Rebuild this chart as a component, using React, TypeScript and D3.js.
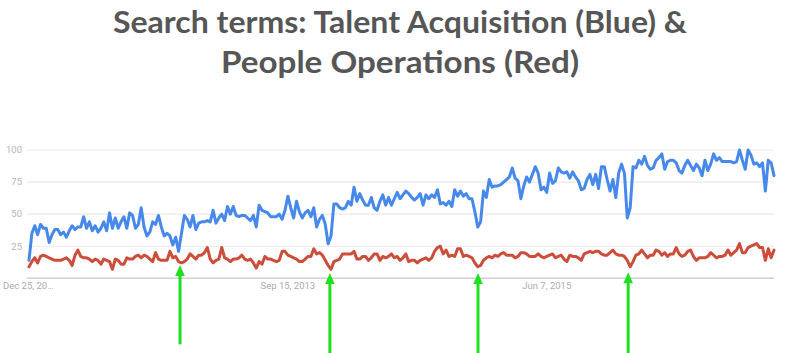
import React from "react";
import * as d3 from "d3";

const TITLE_LINES = ["Search terms: Talent Acquisition (Blue) &", "People Operations (Red)"];
const TITLE_WIDTHS = [574, 358];

const START_DATE = new Date(2011, 11, 25);

const talentAcquisition = [
  14, 35, 41, 34, 42, 39, 39, 28, 34, 38,
  38, 34, 36, 32, 37, 41, 38, 40, 40, 48,
  39, 44, 37, 41, 36, 39, 44, 37, 51, 39,
  47, 39, 44, 48, 39, 51, 49, 39, 42, 55,
  40, 33, 36, 44, 42,
  49, 40, 33, 35, 33, 26, 32, 21, 35, 49,
  46, 40, 49, 38, 43, 44, 44, 45, 44, 53,
  43, 47, 50, 45, 56, 50, 56, 49, 48, 49,
  49, 47, 45, 49, 40,
  57, 53, 52, 51, 48, 48, 48, 50, 46, 53,
  64, 55, 47, 60, 52, 47, 51, 53, 48, 55,
  40, 46, 49, 42, 27, 33, 58, 58, 55, 54,
  55, 60, 57, 71, 60, 66, 61, 57, 57, 63,
  55, 53, 60, 65, 57, 63,
  57, 62, 67, 62, 65, 68, 66, 63, 61, 63,
  66, 57, 65, 62, 65, 63, 69, 58, 59, 57,
  60, 56, 69, 64, 68, 64, 66, 62, 62, 52,
  40, 44, 68, 63, 77, 71, 72, 72, 73, 75,
  77, 79, 86, 78, 76, 62, 72, 79, 75, 81,
  87, 82, 69, 71, 67, 82, 74, 76, 86, 83,
  82, 83, 78,
  83, 79, 76, 69, 70, 77, 81, 73, 81, 70,
  87, 87, 77, 68, 77, 63, 82, 89, 82, 47,
  55, 87, 86, 92, 89, 95, 88, 85, 86, 92,
  94, 97, 85, 91, 92, 92, 90, 84, 82, 88,
  92, 88, 84, 89, 86, 80, 92, 84, 89, 97,
  92, 94, 91, 91, 91, 91, 90, 91, 100, 92,
  85, 100, 96, 89, 90, 87, 90, 68, 92, 90,
  80,
];

const peopleOperations = [
  9, 13, 16, 12, 17, 18, 17, 16, 15, 14,
  14, 14, 15, 16, 14, 10, 18, 22, 17, 16,
  16, 15, 13, 15, 14, 11, 15, 14, 13, 7,
  15, 14, 11, 11, 16, 15, 15, 17, 18, 16,
  18, 17, 15, 13, 20, 15, 14, 14, 14, 21,
  16, 17, 13, 12, 13, 15, 19, 17, 15, 18,
  18, 20, 24, 15, 12, 14, 15, 24, 16, 15,
  13, 15, 15, 16, 18, 15, 14, 15, 12, 8,
  13, 11, 17, 15, 15, 14, 13, 14, 21, 21,
  18, 17, 16, 15, 13, 13, 15, 17, 17, 23,
  19, 20, 18, 14, 10, 7, 13, 14, 15, 19,
  19, 19, 19, 21, 15, 15, 17, 17, 14, 16,
  19, 19, 14, 17, 16, 17,
  19, 16, 17, 14, 16, 19, 13, 14, 14, 12,
  14, 15, 16, 14, 16, 21, 24, 25, 19, 22,
  17, 18, 17, 23, 23, 17, 18, 17, 16, 12,
  9, 10, 14, 16, 17, 16, 18, 17, 19, 20,
  18, 18, 18, 16, 17, 20, 20, 19, 17, 17,
  17, 19, 17, 16, 17, 18, 19, 16, 17, 18,
  15, 13, 18,
  17, 17, 16, 14, 19, 20, 21, 20, 21, 21,
  19, 18, 18, 20, 22, 19, 18, 18, 17, 14,
  9, 13, 18, 19, 22, 19, 16, 18, 18, 22,
  21, 18, 20, 17, 19, 19, 24, 19, 17, 18,
  21, 22, 17, 14, 16, 16, 16, 17, 20, 18,
  16, 17, 17, 18, 22, 18, 20, 22, 27, 20,
  20, 24, 25, 26, 27, 24, 24, 14, 23, 16,
  22,
];

const yTicks = [25, 50, 75, 100];
const xTickDates = [new Date(2011, 11, 25), new Date(2013, 8, 15), new Date(2015, 5, 7)];
const xTickLabels = ["Dec 25, 20…", "Sep 15, 2013", "Jun 7, 2015"];

// annotation arrows: week index, tip value, end value (data units)
const arrowWeeks = [52.5, 104.6, 156.1, 208.3];
const arrowTips = [10.3, 4.2, 4.2, 4.8];
const arrowEnds = [-51.5, -60, -60, -60];

const W = 800;
const H = 353;

const weekDate = (i: number) => d3.timeDay.offset(START_DATE, Math.round(i * 7));

export default function App() {
  const n = talentAcquisition.length;
  const x = d3.scaleTime().domain([START_DATE, weekDate(n - 1)]).range([29, 774]);
  const y = d3.scaleLinear().domain([0, 100]).range([278.3, 150]);
  const gridX0 = 27;
  const gridX1 = 774;

  const line = d3
    .line<number>()
    .x((_, i) => x(weekDate(i)))
    .y((d) => y(d));

  const xw = (w: number) => x(d3.timeHour.offset(START_DATE, w * 7 * 24));

  return (
    <svg
      width={W}
      height={H}
      style={{ position: "absolute", left: 0, top: 0, background: "#fff" }}
      fontFamily="Roboto, Arial, sans-serif"
    >
      <rect width={W} height={H} fill="#fff" />
      {TITLE_LINES.map((t, i) => (
        <text
          key={i}
          x={W / 2}
          y={33 + i * 40}
          textAnchor="middle"
          fontFamily="Lato, 'Open Sans', sans-serif"
          fontWeight={700}
          fontSize={30.5}
          fill="#565656"
          textLength={TITLE_WIDTHS[i]}
          lengthAdjust="spacingAndGlyphs"
        >
          {t}
        </text>
      ))}
      {yTicks.map((t) => (
        <g key={t}>
          <line x1={gridX0} x2={gridX1} y1={y(t)} y2={y(t)} stroke="#e9e9e9" strokeWidth={1.2} />
          <text x={22} y={y(t) + 3.3} textAnchor="end" fontSize={9.5} fill="#b4b4b4">
            {t}
          </text>
        </g>
      ))}
      <line x1={gridX0} x2={gridX1} y1={y(0)} y2={y(0)} stroke="#cfcfcf" strokeWidth={1.6} />
      {xTickDates.map((d, i) => (
        <text
          key={i}
          x={i === 0 ? 3 : x(d)}
          y={289}
          textAnchor={i === 0 ? "start" : "middle"}
          fontSize={9.5}
          fill="#ababab"
        >
          {xTickLabels[i]}
        </text>
      ))}
      <path
        d={line(peopleOperations) || ""}
        fill="none"
        stroke="#cc4d3a"
        strokeWidth={3}
        strokeLinejoin="round"
        strokeLinecap="round"
      />
      <path
        d={line(talentAcquisition) || ""}
        fill="none"
        stroke="#4689ea"
        strokeWidth={3}
        strokeLinejoin="round"
        strokeLinecap="round"
      />
      {arrowWeeks.map((w, i) => {
        const ax = xw(w);
        const tip = y(arrowTips[i]);
        const end = Math.min(y(arrowEnds[i]), H);
        return (
          <g key={i}>
            <line x1={ax} x2={ax} y1={tip + 8} y2={end} stroke="#1ee01e" strokeWidth={3} />
            <path d={`M${ax},${tip} L${ax - 4.8},${tip + 11} L${ax + 4.8},${tip + 11} Z`} fill="#1ee01e" />
          </g>
        );
      })}
    </svg>
  );
}
